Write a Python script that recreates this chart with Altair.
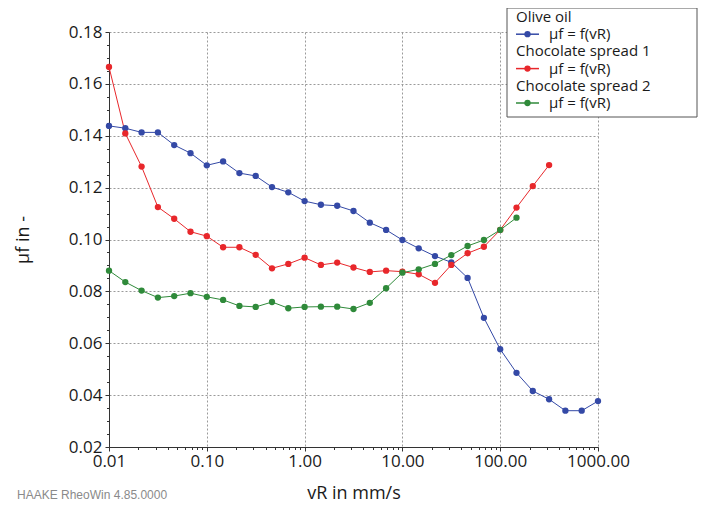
import altair as alt
import pandas as pd

# sliding speed vR in mm/s (6 log-spaced points per decade)
vR = [0.01, 0.01468, 0.02154, 0.03162, 0.04642, 0.06813,
      0.1, 0.1468, 0.2154, 0.3162, 0.4642, 0.6813,
      1.0, 1.468, 2.154, 3.162, 4.642, 6.813,
      10.0, 14.68, 21.54, 31.62, 46.42, 68.13,
      100.0, 146.8, 215.4, 316.2, 464.2, 681.3, 1000.0]

olive_oil = [0.1438, 0.1429, 0.1413, 0.1413, 0.1364, 0.1333, 0.1286, 0.1301,
             0.1256, 0.1245, 0.1202, 0.1182, 0.1148, 0.1134, 0.1130, 0.1110,
             0.1065, 0.1037, 0.0998, 0.0966, 0.0936, 0.0912, 0.0852, 0.0698,
             0.0577, 0.0486, 0.0416, 0.0384, 0.0340, 0.0340, 0.0377]

choc_spread_1 = [0.1665, 0.1409, 0.1281, 0.1125, 0.1080, 0.1030, 0.1013, 0.0970,
                 0.0970, 0.0941, 0.0889, 0.0906, 0.0930, 0.0902, 0.0911, 0.0892,
                 0.0875, 0.0880, 0.0876, 0.0866, 0.0833, 0.0902, 0.0947, 0.0972,
                 0.1037, 0.1123, 0.1206, 0.1287]

choc_spread_2 = [0.0880, 0.0836, 0.0803, 0.0776, 0.0782, 0.0793, 0.0779, 0.0767,
                 0.0744, 0.0740, 0.0759, 0.0735, 0.0740, 0.0741, 0.0741, 0.0732,
                 0.0756, 0.0812, 0.0872, 0.0885, 0.0906, 0.0940, 0.0975, 0.0998,
                 0.1037, 0.1084]

series_names = ["Olive oil", "Chocolate spread 1", "Chocolate spread 2"]
series_colors = ["#3449a6", "#e8272b", "#2f8a3a"]
legend_sub = "µf = f(vR)"

x_major = [0.01, 0.1, 1, 10, 100, 1000]
x_minor = [m * 10 ** e for e in range(-2, 3) for m in range(2, 10)]
y_major = [0.02, 0.04, 0.06, 0.08, 0.10, 0.12, 0.14, 0.16, 0.18]
y_minor = [round(0.02 + 0.005 * i, 3) for i in range(33) if i % 4 != 0]

rows = []
for name, vals in zip(series_names, [olive_oil, choc_spread_1, choc_spread_2]):
    for i, v in enumerate(vals):
        rows.append({"series": name, "vR": vR[i], "mu": v, "order": i})
df = pd.DataFrame(rows)

FONT = "Open Sans"
W, H = 489, 415

xscale = alt.Scale(type="log", domain=[0.01, 1000], nice=False)
yscale = alt.Scale(domain=[0.02, 0.18], nice=False, zero=False)
cscale = alt.Scale(domain=series_names, range=series_colors)

x_axis = alt.Axis(values=x_major, format=".2f", grid=True, gridDash=[2, 2],
                  gridColor="#9a9a9a", gridWidth=1, tickSize=4, tickColor="#333",
                  domainColor="#333", labelFont=FONT, labelFontSize=17,
                  labelColor="#1a1a1a", labelPadding=2, labelFlush=False,
                  labelOverlap=False, title="vR in mm/s", titleFont=FONT,
                  titleFontSize=18, titleFontWeight="normal", titleColor="#1a1a1a",
                  titleX=W / 2, titleY=46, titleBaseline="middle", titleAlign="center")
y_axis = alt.Axis(values=y_major, format=".2f", grid=True, gridDash=[2, 2],
                  gridColor="#9a9a9a", gridWidth=1, tickSize=4, tickColor="#333",
                  domainColor="#333", labelFont=FONT, labelFontSize=17,
                  labelColor="#1a1a1a", labelPadding=3, labelFlush=False,
                  labelOverlap=False, title="µf in -", titleFont=FONT,
                  titleFontSize=18, titleFontWeight="normal", titleColor="#1a1a1a",
                  titleX=-86, titleY=H / 2, titleBaseline="middle", titleAlign="center")

lines = alt.Chart(df).mark_line(strokeWidth=1).encode(
    x=alt.X("vR:Q", scale=xscale, axis=x_axis),
    y=alt.Y("mu:Q", scale=yscale, axis=y_axis),
    color=alt.Color("series:N", scale=cscale, legend=None),
    order="order:Q",
)
points = alt.Chart(df).mark_point(filled=True, size=40, opacity=1).encode(
    x=alt.X("vR:Q", scale=xscale, axis=None),
    y=alt.Y("mu:Q", scale=yscale, axis=None),
    color=alt.Color("series:N", scale=cscale, legend=None),
)
minor = alt.Chart(df).mark_point(opacity=0).encode(
    x=alt.X("vR:Q", scale=xscale,
            axis=alt.Axis(values=x_minor, labels=False, grid=False, domain=False,
                          tickSize=2.5, tickColor="#333", title=None, orient="bottom")),
    y=alt.Y("mu:Q", scale=yscale,
            axis=alt.Axis(values=y_minor, labels=False, grid=False, domain=False,
                          tickSize=2.5, tickColor="#333", title=None, orient="left")),
)

# legend box (drawn by hand to mimic the two-line entries)
box = alt.Chart(pd.DataFrame({"a": [0]})).mark_rect(
    fill="white", stroke="#555", strokeWidth=1
).encode(x=alt.value(398), x2=alt.value(588), y=alt.value(-24), y2=alt.value(85))

legend_layers = [box]
for k, (name, col) in enumerate(zip(series_names, series_colors)):
    ty = -15 + 34.4 * k
    sy = ty + 17.2
    legend_layers.append(
        alt.Chart(pd.DataFrame({"t": [name]})).mark_text(
            align="left", baseline="middle", font=FONT, fontSize=15, color="#1a1a1a"
        ).encode(x=alt.value(407), y=alt.value(ty), text="t:N"))
    legend_layers.append(
        alt.Chart(pd.DataFrame({"t": [legend_sub]})).mark_text(
            align="left", baseline="middle", font=FONT, fontSize=15, color="#1a1a1a"
        ).encode(x=alt.value(440), y=alt.value(sy), text="t:N"))
    legend_layers.append(
        alt.Chart(pd.DataFrame({"t": [name]})).mark_rule(color=col, strokeWidth=1.5).encode(
            x=alt.value(407), x2=alt.value(430), y=alt.value(sy)))
    legend_layers.append(
        alt.Chart(pd.DataFrame({"t": [name]})).mark_point(
            filled=True, size=40, color=col, opacity=1
        ).encode(x=alt.value(418.5), y=alt.value(sy)))

footer = alt.Chart(pd.DataFrame({"t": ["HAAKE RheoWin 4.85.0000"]})).mark_text(
    align="left", baseline="middle", font="Liberation Sans", fontSize=12, color="#8a8a8a"
).encode(x=alt.value(-92), y=alt.value(463), text="t:N")

chart = alt.layer(lines, points, minor, *legend_layers, footer).resolve_axis(
    x="independent", y="independent"
).properties(
    width=W, height=H,
    autosize=alt.AutoSizeParams(type="none"),
    padding={"left": 101, "top": 24, "right": 100, "bottom": 56},
).configure_view(stroke=None)

chart.save("out.html", embed_options={"renderer": "svg", "actions": False})
